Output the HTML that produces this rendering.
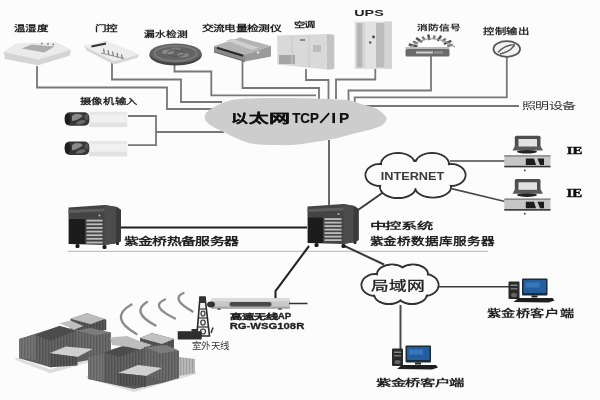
<!DOCTYPE html>
<html lang="zh-CN"><head><meta charset="utf-8"><title>network</title>
<style>html,body{margin:0;padding:0;background:#fcfcfc;}svg{display:block;filter:blur(0.55px)}</style></head>
<body><svg width="600" height="400" viewBox="0 0 600 400">
<rect width="600" height="400" fill="#fcfcfc"/>
<polyline points="37,66 37,87.5 167,87.5 167,109 216,109" fill="none" stroke="#777777" stroke-width="1.8" stroke-linejoin="miter"/>
<polyline points="112,63 112,79.5 181,79.5 181,102 222,102" fill="none" stroke="#777777" stroke-width="1.8" stroke-linejoin="miter"/>
<polyline points="174.5,64 174.5,71.5 211.3,71.5 211.3,95.3 316,95.3" fill="none" stroke="#777777" stroke-width="1.8" stroke-linejoin="miter"/>
<polyline points="242.5,61 242.5,88 319,88 319,99" fill="none" stroke="#777777" stroke-width="1.8" stroke-linejoin="miter"/>
<polyline points="306,69 306,80 328.5,80 328.5,99" fill="none" stroke="#777777" stroke-width="1.8" stroke-linejoin="miter"/>
<polyline points="375.3,68 375.3,79.5 336,79.5 336,99" fill="none" stroke="#777777" stroke-width="1.8" stroke-linejoin="miter"/>
<polyline points="431,56 431,90.5 348.5,90.5 348.5,101" fill="none" stroke="#777777" stroke-width="1.8" stroke-linejoin="miter"/>
<polyline points="506.8,57 506.8,97.3 354.7,97.3 354.7,102" fill="none" stroke="#777777" stroke-width="1.8" stroke-linejoin="miter"/>
<polyline points="519,106 365,106" fill="none" stroke="#777777" stroke-width="1.8" stroke-linejoin="miter"/>
<polyline points="128,116 156,116 156,145.2 128,145.2" fill="none" stroke="#777777" stroke-width="1.8" stroke-linejoin="miter"/>
<polyline points="156,132 224,132" fill="none" stroke="#777777" stroke-width="1.8" stroke-linejoin="miter"/>
<polyline points="329,140 329,205" fill="none" stroke="#5a5a5a" stroke-width="1.8" stroke-linejoin="miter"/>
<polyline points="121,227.5 307,227.5" fill="none" stroke="#1e1e1e" stroke-width="2" stroke-linejoin="miter"/>
<polyline points="68,251.3 488,251.3" fill="none" stroke="#b4b4b4" stroke-width="1" stroke-linejoin="miter"/>
<polyline points="358,210 383,192.5" fill="none" stroke="#3a3a3a" stroke-width="2" stroke-linejoin="miter"/>
<polyline points="450,161 505,161" fill="none" stroke="#4a4a4a" stroke-width="1.6" stroke-linejoin="miter"/>
<polyline points="451.5,188.6 505,201.5" fill="none" stroke="#4a4a4a" stroke-width="1.6" stroke-linejoin="miter"/>
<polyline points="342.5,245 384,264.5" fill="none" stroke="#3a3a3a" stroke-width="2" stroke-linejoin="miter"/>
<polyline points="438.5,286.8 509,286.8" fill="none" stroke="#3a3a3a" stroke-width="1.6" stroke-linejoin="miter"/>
<polyline points="400.5,305 400.5,349" fill="none" stroke="#4a4a4a" stroke-width="2" stroke-linejoin="miter"/>
<polyline points="309,246 275.5,291 275.5,299" fill="none" stroke="#252525" stroke-width="2.1" stroke-linejoin="miter"/>
<path d="M204.8,116.5 C204.9,114.9 205.5,113.5 207.0,112.0 C208.5,110.5 211.0,108.8 213.5,107.3 C216.0,105.8 219.1,104.2 222.0,103.0 C224.9,101.8 228.0,101.0 231.0,100.3 C234.0,99.6 236.0,99.3 240.0,99.0 C244.0,98.7 248.3,98.4 255.0,98.2 C261.7,98.0 271.7,98.0 280.0,98.0 C288.3,98.0 295.8,98.0 305.0,98.3 C314.2,98.5 327.5,99.1 335.0,99.5 C342.5,99.9 345.5,99.7 350.0,100.5 C354.5,101.3 358.2,103.2 362.0,104.3 C365.8,105.4 369.5,106.2 372.5,107.3 C375.5,108.4 377.7,109.2 380.0,111.0 C382.3,112.8 386.0,115.8 386.5,118.0 C387.0,120.2 385.1,122.8 383.0,124.5 C380.9,126.2 377.8,127.2 374.0,128.5 C370.2,129.8 365.0,130.8 360.5,132.0 C356.0,133.2 351.2,134.4 347.0,135.5 C342.8,136.6 340.2,137.4 335.0,138.5 C329.8,139.6 322.7,140.8 316.0,141.8 C309.3,142.9 301.8,144.3 295.0,144.8 C288.2,145.3 281.7,145.1 275.0,145.0 C268.3,144.9 260.1,144.6 255.0,144.0 C249.9,143.4 248.2,142.8 244.5,141.6 C240.8,140.3 236.2,138.2 232.5,136.5 C228.8,134.8 225.2,132.9 222.0,131.3 C218.8,129.7 215.6,128.4 213.0,126.8 C210.4,125.2 207.7,123.2 206.3,121.5 C204.9,119.8 204.6,118.1 204.8,116.5 Z" fill="#cdcdcd"/>
<g><polygon points="3.8,52 16.5,43.7 55.7,42.4 71,50 69.7,55.7 38,65.2 5,59" fill="#d4d4d4"/><polygon points="3.8,52 16.5,43.7 55.7,42.4 71,50 38,59.5" fill="#ebebeb"/><polygon points="21.5,48.5 31.7,44.6 54.5,46.4 44.3,52.4" fill="#adadad"/><circle cx="41.8" cy="43.4" r="1" fill="#8a8a8a"/><circle cx="48" cy="43.9" r="1" fill="#8a8a8a"/><circle cx="53.2" cy="44.4" r="1" fill="#8a8a8a"/></g>
<g><polygon points="84,46 106.5,41 139,54.5 138,57.5 114,64.5 86.5,50.5" fill="#d6d6d6"/><polygon points="84,46 106.5,41 139,54.5 114,61.5" fill="#ededed"/><line x1="91.5" y1="46.5" x2="106" y2="43.5" stroke="#333" stroke-width="2"/><g stroke="#7a7a7a" stroke-width="1.2"><line x1="103.5" y1="48.6" x2="104.3" y2="53.1"/><line x1="108" y1="50.1" x2="108.8" y2="54.6"/><line x1="112.5" y1="51.5" x2="113.3" y2="56.0"/><line x1="117" y1="52.9" x2="117.8" y2="57.4"/><line x1="121.5" y1="54.4" x2="122.3" y2="58.9"/><line x1="101" y1="53" x2="124" y2="58.5" stroke-width="0.8"/></g></g>
<g><ellipse cx="175.6" cy="55" rx="26.3" ry="10.5" fill="#444"/><ellipse cx="175.6" cy="53.3" rx="25.8" ry="9.8" fill="#636363"/><ellipse cx="175.6" cy="53.3" rx="21" ry="7.6" fill="none" stroke="#7c7c7c" stroke-width="1.6"/><ellipse cx="168" cy="52" rx="6" ry="2.5" fill="#8a8a8a"/><ellipse cx="183" cy="55" rx="6" ry="2.5" fill="#848484"/><ellipse cx="176" cy="49" rx="5" ry="1.8" fill="#7a7a7a"/><ellipse cx="175.6" cy="53.3" rx="9" ry="3" fill="none" stroke="#555" stroke-width="1"/></g>
<g><polygon points="214,46 240,37.5 271,46 245,54.5" fill="#b4b4b4"/><polygon points="214,46 245,54.5 245,61.5 214,52" fill="#8a8a8a"/><polygon points="245,54.5 271,46 271,56.5 245,61.5" fill="#9a9a9a"/><polygon points="226,40.5 232,38.8 259,47.5 252,50" fill="#cfcfcf"/><line x1="217" y1="47.8" x2="243" y2="55.8" stroke="#2a2a2a" stroke-width="2.2"/><line x1="214" y1="52" x2="245" y2="61.5" stroke="#666" stroke-width="1"/><circle cx="258" cy="52.5" r="1.3" fill="#e0e0e0"/></g>
<g><polygon points="277.3,35.5 327,34 334.2,35 334.2,69 327,69.5 277.3,64.4" fill="#d9d9d9"/><polygon points="327,34 334.2,35 334.2,69 327,69.5" fill="#c4c4c4"/><rect x="279" y="55" width="16" height="9" fill="#a6a6a6"/><rect x="313" y="45" width="8" height="7" fill="#bdbdbd"/><rect x="300" y="39" width="5" height="2" fill="#888"/><line x1="292" y1="36" x2="292" y2="65" stroke="#c8c8c8" stroke-width="1"/><line x1="309" y1="35" x2="309" y2="67" stroke="#c8c8c8" stroke-width="1"/></g>
<g><rect x="354.5" y="21.5" width="37.5" height="47.5" fill="#e2e2e2"/><rect x="356.5" y="23" width="6" height="44.5" fill="#b6b6b6"/><rect x="376" y="23" width="8.5" height="44.5" fill="#bcbcbc"/><rect x="385" y="21.5" width="7" height="47.5" fill="#d4d4d4"/><rect x="363.5" y="23" width="1.5" height="44.5" fill="#cfcfcf"/><circle cx="373.5" cy="37" r="1.4" fill="#444"/><circle cx="370.2" cy="42.5" r="1.2" fill="#555"/></g>
<g><line x1="417.4" y1="46.2" x2="408.7" y2="44.5" stroke="#505050" stroke-width="2.4"/><line x1="417.8" y1="43.4" x2="413.0" y2="41.5" stroke="#777" stroke-width="2.4"/><line x1="422.0" y1="42.1" x2="416.1" y2="37.9" stroke="#505050" stroke-width="2.4"/><line x1="424.8" y1="39.9" x2="422.4" y2="36.7" stroke="#777" stroke-width="2.4"/><line x1="429.4" y1="40.1" x2="428.2" y2="34.6" stroke="#505050" stroke-width="2.4"/><line x1="433.8" y1="39.1" x2="434.6" y2="35.6" stroke="#777" stroke-width="2.4"/><line x1="437.5" y1="40.8" x2="441.2" y2="35.8" stroke="#505050" stroke-width="2.4"/><line x1="442.1" y1="41.3" x2="445.8" y2="38.7" stroke="#777" stroke-width="2.4"/><line x1="443.8" y1="44.0" x2="451.3" y2="40.9" stroke="#505050" stroke-width="2.4"/><line x1="447.2" y1="45.9" x2="452.7" y2="44.8" stroke="#777" stroke-width="2.4"/><path d="M409,48 Q431,30 455,47" fill="none" stroke="#9a9a9a" stroke-width="1.2"/><rect x="405.5" y="47" width="44" height="2.5" fill="#bdbdbd"/><rect x="405.5" y="49" width="44" height="7.5" rx="1.5" fill="#6a6a6a"/><rect x="416" y="51.5" width="17" height="2" fill="#cfcfcf"/><rect x="434" y="51" width="9" height="3" fill="#8a8a8a"/></g>
<g><ellipse cx="506.75" cy="49" rx="13.3" ry="7.8" fill="#f2f2f2" stroke="#555" stroke-width="1.8"/><path d="M498,52.5 C502,48 508,44.5 515,45" fill="none" stroke="#555" stroke-width="1.3"/><path d="M500,54 C505,53 511,50 514.5,45.5" fill="none" stroke="#555" stroke-width="1.3"/></g>
<g transform="translate(0,0)"><rect x="88.5" y="111.5" width="39" height="15.8" rx="2" fill="#f0f0f0"/><rect x="89" y="112" width="38" height="2.5" fill="#e6e6e6"/><rect x="89" y="122.5" width="38" height="4.5" fill="#e2e2e2"/><rect x="64.8" y="112.2" width="24.5" height="13.6" rx="5" fill="#363636"/><ellipse cx="67.5" cy="119" rx="2.8" ry="5.5" fill="#1e1e1e"/><path d="M72,116 C75,113 80,113 83,116 C80,118 76,121 72,121 Z" fill="#8a8a8a"/><path d="M76,123 C79,120 83,119 86,121 C84,124 80,125 76,124 Z" fill="#6a6a6a"/><ellipse cx="86.5" cy="117" rx="2" ry="3" fill="#555"/></g>
<g transform="translate(0,29.2)"><rect x="88.5" y="111.5" width="39" height="15.8" rx="2" fill="#f0f0f0"/><rect x="89" y="112" width="38" height="2.5" fill="#e6e6e6"/><rect x="89" y="122.5" width="38" height="4.5" fill="#e2e2e2"/><rect x="64.8" y="112.2" width="24.5" height="13.6" rx="5" fill="#363636"/><ellipse cx="67.5" cy="119" rx="2.8" ry="5.5" fill="#1e1e1e"/><path d="M72,116 C75,113 80,113 83,116 C80,118 76,121 72,121 Z" fill="#8a8a8a"/><path d="M76,123 C79,120 83,119 86,121 C84,124 80,125 76,124 Z" fill="#6a6a6a"/><ellipse cx="86.5" cy="117" rx="2" ry="3" fill="#555"/></g>
<g><polygon points="68.5,207.5 104.5,205 117,207 121,210 121,241 118,243 104.5,245 68.5,244" fill="#444"/><polygon points="104.5,205 117,207 121,210 121,241 118,243 104.5,245" fill="#4c4c4c"/><polygon points="116,208 121,210 121,241 116,243" fill="#3a3a3a"/><polygon points="68.5,210 104.5,208.5 104.5,211.5 68.5,213" fill="#5e5e5e"/><rect x="69.0" y="219" width="16.0" height="25" fill="#1c1c1c"/><rect x="86.5" y="219.7" width="16.0" height="1.8" fill="#bdbdbd"/><rect x="86.5" y="223.4" width="16.0" height="1.8" fill="#bdbdbd"/><rect x="86.5" y="227.0" width="16.0" height="1.8" fill="#bdbdbd"/><rect x="86.5" y="230.7" width="16.0" height="1.8" fill="#bdbdbd"/><rect x="86.5" y="234.3" width="16.0" height="1.8" fill="#bdbdbd"/><rect x="86.5" y="237.9" width="16.0" height="1.8" fill="#bdbdbd"/><rect x="86.5" y="241.6" width="16.0" height="1.8" fill="#bdbdbd"/><circle cx="99.5" cy="215.5" r="1" fill="#bbb"/><rect x="75.5" y="244" width="4" height="4" rx="1.5" fill="#1a1a1a"/><rect x="102.5" y="245" width="4" height="4" rx="1.5" fill="#1a1a1a"/><rect x="116" y="242" width="3" height="3" rx="1" fill="#2a2a2a"/></g>
<g><polygon points="307.5,206.5 343.5,204 354.5,206 358.5,209 358.5,240 355.5,242 343.5,244 307.5,243" fill="#444"/><polygon points="343.5,204 354.5,206 358.5,209 358.5,240 355.5,242 343.5,244" fill="#4c4c4c"/><polygon points="353.5,207 358.5,209 358.5,240 353.5,242" fill="#3a3a3a"/><polygon points="307.5,209 343.5,207.5 343.5,210.5 307.5,212" fill="#5e5e5e"/><rect x="308.0" y="217.5" width="15.0" height="25.5" fill="#1c1c1c"/><rect x="324.5" y="218.2" width="17.0" height="1.8" fill="#bdbdbd"/><rect x="324.5" y="221.7" width="17.0" height="1.8" fill="#bdbdbd"/><rect x="324.5" y="225.2" width="17.0" height="1.8" fill="#bdbdbd"/><rect x="324.5" y="228.7" width="17.0" height="1.8" fill="#bdbdbd"/><rect x="324.5" y="232.2" width="17.0" height="1.8" fill="#bdbdbd"/><rect x="324.5" y="235.7" width="17.0" height="1.8" fill="#bdbdbd"/><rect x="324.5" y="239.2" width="17.0" height="1.8" fill="#bdbdbd"/><circle cx="338.5" cy="214.0" r="1" fill="#bbb"/><rect x="314.5" y="243" width="4" height="4" rx="1.5" fill="#1a1a1a"/><rect x="341.5" y="244" width="4" height="4" rx="1.5" fill="#1a1a1a"/><rect x="353.5" y="241" width="3" height="3" rx="1" fill="#2a2a2a"/></g>
<g transform="translate(0,0)"><rect x="514.8" y="135.8" width="25.7" height="13" rx="1.5" fill="#4e4e4e"/><polygon points="515,146 540.5,146 543,150.5 512.5,150.5" fill="#5a5a5a"/><rect x="518.5" y="139" width="18.5" height="7.5" fill="#e2e2e2"/><ellipse cx="527" cy="151.8" rx="10" ry="1.8" fill="#222"/><rect x="504.3" y="155.2" width="46.2" height="12.1" fill="#c6c6c6"/><rect x="504.3" y="155.2" width="46.2" height="1.5" fill="#888"/><rect x="504.3" y="165.8" width="46.2" height="1.5" fill="#333"/><polygon points="525.8,158.5 534,158.5 536,165 525.8,165" fill="#1c1c1c"/><polygon points="537.5,158.5 544,158.5 544,165 540,165" fill="#1c1c1c"/><circle cx="524.8" cy="170.4" r="0.9" fill="#333"/></g>
<g transform="translate(0,43.3)"><rect x="514.8" y="135.8" width="25.7" height="13" rx="1.5" fill="#4e4e4e"/><polygon points="515,146 540.5,146 543,150.5 512.5,150.5" fill="#5a5a5a"/><rect x="518.5" y="139" width="18.5" height="7.5" fill="#e2e2e2"/><ellipse cx="527" cy="151.8" rx="10" ry="1.8" fill="#222"/><rect x="504.3" y="155.2" width="46.2" height="12.1" fill="#c6c6c6"/><rect x="504.3" y="155.2" width="46.2" height="1.5" fill="#888"/><rect x="504.3" y="165.8" width="46.2" height="1.5" fill="#333"/><polygon points="525.8,158.5 534,158.5 536,165 525.8,165" fill="#1c1c1c"/><polygon points="537.5,158.5 544,158.5 544,165 540,165" fill="#1c1c1c"/><circle cx="524.8" cy="170.4" r="0.9" fill="#333"/></g>
<g transform="translate(508.5,281.5)"><rect x="0" y="0" width="11" height="17.5" rx="1" fill="#2a2a2a"/><rect x="2" y="3" width="7" height="1.5" fill="#888"/><rect x="2" y="6.5" width="7" height="1.5" fill="#777"/><ellipse cx="5.5" cy="13.5" rx="3" ry="2" fill="#666"/><rect x="13.5" y="-3" width="25.5" height="17" rx="1" fill="#1b2a3a"/><rect x="15" y="-1.5" width="22.5" height="13" fill="#235f9e"/><rect x="17" y="1" width="14" height="5" fill="#3b7cc0" opacity="0.8"/><rect x="23" y="14" width="6" height="2" fill="#222"/><polygon points="5,20.5 10,16.5 44,16.5 46,19 40,21" fill="#1e1e1e"/></g>
<g transform="translate(392,348.5)"><rect x="0" y="0" width="11" height="17.5" rx="1" fill="#2a2a2a"/><rect x="2" y="3" width="7" height="1.5" fill="#888"/><rect x="2" y="6.5" width="7" height="1.5" fill="#777"/><ellipse cx="5.5" cy="13.5" rx="3" ry="2" fill="#666"/><rect x="13.5" y="-3" width="25.5" height="17" rx="1" fill="#1b2a3a"/><rect x="15" y="-1.5" width="22.5" height="13" fill="#235f9e"/><rect x="17" y="1" width="14" height="5" fill="#3b7cc0" opacity="0.8"/><rect x="23" y="14" width="6" height="2" fill="#222"/><polygon points="5,20.5 10,16.5 44,16.5 46,19 40,21" fill="#1e1e1e"/></g>
<g><rect x="211" y="298.3" width="79" height="10.5" rx="3" fill="#c8c8c8"/><rect x="211" y="298.3" width="79" height="3" rx="1.5" fill="#dcdcdc"/><rect x="211" y="306.5" width="79" height="2.3" rx="1" fill="#aaa"/><rect x="229.5" y="302" width="42" height="4.6" rx="2" fill="#4a4a4a"/><ellipse cx="219" cy="309" rx="2" ry="1" fill="#666"/><ellipse cx="280" cy="309" rx="2" ry="1" fill="#666"/><line x1="289" y1="303.5" x2="307.5" y2="303.5" stroke="#333" stroke-width="1.5"/><ellipse cx="211" cy="304.5" rx="4" ry="3" fill="#333"/></g>
<g><path d="M200,297 L205,297 L209.5,336 L196.8,336 Z" fill="#f0f0f0" stroke="#2a2a2a" stroke-width="1.6"/><rect x="199" y="297" width="7" height="6" fill="#333"/><g stroke="#333" stroke-width="1.2" fill="none"><line x1="199" y1="309" x2="207" y2="309"/><line x1="198.5" y1="318" x2="208" y2="318"/><line x1="198" y1="327" x2="209" y2="327"/><ellipse cx="203" cy="313.5" rx="2" ry="2.5"/><ellipse cx="203" cy="322.5" rx="2.2" ry="2.5"/><ellipse cx="203" cy="331.5" rx="2.5" ry="2.5"/></g><rect x="177.7" y="331.2" width="24" height="8.3" fill="#2e2e2e"/><rect x="191.5" y="329" width="6" height="3" fill="#333"/><path d="M211,333 L213,327.5" stroke="#333" stroke-width="1.5"/></g>
<path d="M131.5,304.5 Q108.0,317.8 136.5,334" fill="none" stroke="#8c8c8c" stroke-width="2.4" stroke-linecap="round"/>
<path d="M147,302 Q130.4,312.2 155.5,325.5" fill="none" stroke="#8c8c8c" stroke-width="2.4" stroke-linecap="round"/>
<path d="M165,299.5 Q149.0,306.0 175,318.5" fill="none" stroke="#8c8c8c" stroke-width="2.4" stroke-linecap="round"/>
<path d="M183.5,293 Q170.0,298.8 192.5,311.5" fill="none" stroke="#8c8c8c" stroke-width="2.4" stroke-linecap="round"/>
<defs><pattern id="vs" width="3" height="4" patternUnits="userSpaceOnUse"><rect width="1" height="4" fill="#000" opacity="0.13"/><rect x="2" width="0.6" height="4" fill="#fff" opacity="0.07"/></pattern></defs>
<g><polygon points="15.5,357.3 50.3,369.2 90.7,358.2 90.7,361.8 50.3,373.2 15.5,360.0" fill="#dedede"/><polygon points="70.5,318.8 87.0,313.3 106.3,319.7 106.3,329.8 90.7,334.3 70.5,328.8" fill="#525252"/><polygon points="70.5,318.8 87.0,313.3 106.3,319.7 106.3,329.8 90.7,334.3 70.5,328.8" fill="url(#vs)"/><polygon points="70.5,318.8 87.0,313.3 105.3,318.8 90.7,324.3" fill="#bcbcbc"/><polygon points="19.2,338.9 59.5,326.1 77.8,330.7 110.8,332.5 110.8,352.7 88.8,360.0 50.3,367.3 19.2,358.2" fill="#5f5f5f"/><polygon points="35.7,335.3 76.0,330.7 76.0,352.7 50.3,367.3 35.7,360.0" fill="#5f5f5f"/><polygon points="35.7,335.3 76.0,330.7 76.0,352.7 50.3,367.3 35.7,360.0" fill="url(#vs)"/><polygon points="19.2,338.9 35.7,334.3 35.7,360.0 19.2,358.2" fill="#707070"/><polygon points="19.2,338.9 35.7,334.3 35.7,360.0 19.2,358.2" fill="url(#vs)"/><polygon points="35.7,335.3 59.5,326.1 76.0,330.7 50.3,340.8" fill="#4c4c4c"/><polygon points="59.5,323.3 70.5,320.6 83.3,326.1 74.2,329.8" fill="#bfbfbf"/><polygon points="76.0,330.7 87.0,327.9 110.8,332.5 110.8,352.7 94.3,356.3 76.0,350.8" fill="#666666"/><polygon points="76.0,330.7 87.0,327.9 110.8,332.5 110.8,352.7 94.3,356.3 76.0,350.8" fill="url(#vs)"/><polygon points="76.9,330.7 90.7,327.9 110.8,332.5 96.2,335.3" fill="#7c7c7c"/><polygon points="49.4,353.2 65.9,346.4 92.5,349.0 77.5,357.1" fill="#cfcfcf"/><polygon points="49.4,353.2 77.5,357.1 77.5,365.5 50.3,367.3" fill="#505050"/><polygon points="49.4,353.2 77.5,357.1 77.5,365.5 50.3,367.3" fill="url(#vs)"/><polygon points="86.0,376.0 134.0,389.0 196.0,371.0 196.0,374.0 134.0,392.0 86.0,378.0" fill="#dcdcdc"/><polygon points="179.0,357.0 195.0,359.0 195.0,373.0 179.0,376.0" fill="#b5b5b5"/><polygon points="179.0,357.0 195.0,359.0 195.0,373.0 179.0,376.0" fill="url(#vs)"/><polygon points="140.0,338.0 152.0,333.0 174.0,339.0 174.0,349.0 162.0,351.0 140.0,347.0" fill="#525252"/><polygon points="140.0,338.0 152.0,333.0 174.0,339.0 174.0,349.0 162.0,351.0 140.0,347.0" fill="url(#vs)"/><polygon points="140.0,338.0 152.0,333.0 174.0,339.0 162.0,344.0" fill="#c2c2c2"/><polygon points="88.0,357.0 126.0,345.0 146.0,347.0 179.0,351.0 179.0,378.0 162.0,383.0 134.0,389.0 88.0,379.0" fill="#5d5d5d"/><polygon points="104.0,353.0 144.0,347.0 144.0,375.0 118.0,385.0 104.0,381.0" fill="#5d5d5d"/><polygon points="104.0,353.0 144.0,347.0 144.0,375.0 118.0,385.0 104.0,381.0" fill="url(#vs)"/><polygon points="88.0,357.0 104.0,353.0 104.0,381.0 88.0,379.0" fill="#707070"/><polygon points="88.0,357.0 104.0,353.0 104.0,381.0 88.0,379.0" fill="url(#vs)"/><polygon points="104.0,353.0 126.0,345.0 144.0,347.0 120.0,357.0" fill="#4c4c4c"/><polygon points="110.0,337.4 127.0,336.0 138.0,340.6 152.0,345.0 140.0,349.4 128.0,347.0 112.0,345.0" fill="#bdbdbd"/><polygon points="144.0,347.0 160.0,345.0 179.0,351.0 179.0,378.0 162.0,381.0 144.0,375.0" fill="#666666"/><polygon points="144.0,347.0 160.0,345.0 179.0,351.0 179.0,378.0 162.0,381.0 144.0,375.0" fill="url(#vs)"/><polygon points="146.0,347.4 166.0,345.0 179.0,350.6 161.0,353.4" fill="#7c7c7c"/><polygon points="118.0,373.0 138.0,365.0 162.0,368.0 146.0,376.0" fill="#d0d0d0"/><polygon points="118.0,373.0 146.0,376.0 146.0,387.0 118.0,385.0" fill="#505050"/><polygon points="118.0,373.0 146.0,376.0 146.0,387.0 118.0,385.0" fill="url(#vs)"/></g>
<g><ellipse cx="380" cy="175" rx="14.5" ry="11" fill="none" stroke="#333" stroke-width="2"/><ellipse cx="398" cy="164.5" rx="17" ry="11.5" fill="none" stroke="#333" stroke-width="2"/><ellipse cx="432" cy="164.5" rx="17" ry="11.5" fill="none" stroke="#333" stroke-width="2"/><ellipse cx="451" cy="175" rx="14.5" ry="11" fill="none" stroke="#333" stroke-width="2"/><ellipse cx="398" cy="187" rx="18" ry="11" fill="none" stroke="#333" stroke-width="2"/><ellipse cx="433" cy="187" rx="18" ry="10.5" fill="none" stroke="#333" stroke-width="2"/><ellipse cx="415" cy="175" rx="30" ry="14" fill="none" stroke="#333" stroke-width="2"/><ellipse cx="380" cy="175" rx="13.5" ry="10.0" fill="#fbfbfb"/><ellipse cx="398" cy="164.5" rx="16.0" ry="10.5" fill="#fbfbfb"/><ellipse cx="432" cy="164.5" rx="16.0" ry="10.5" fill="#fbfbfb"/><ellipse cx="451" cy="175" rx="13.5" ry="10.0" fill="#fbfbfb"/><ellipse cx="398" cy="187" rx="17.0" ry="10.0" fill="#fbfbfb"/><ellipse cx="433" cy="187" rx="17.0" ry="9.5" fill="#fbfbfb"/><ellipse cx="415" cy="175" rx="29.0" ry="13.0" fill="#fbfbfb"/></g>
<g><ellipse cx="375.5" cy="285" rx="14" ry="11" fill="none" stroke="#333" stroke-width="2"/><ellipse cx="392" cy="274.5" rx="15" ry="10" fill="none" stroke="#333" stroke-width="2"/><ellipse cx="413" cy="274.5" rx="15" ry="10" fill="none" stroke="#333" stroke-width="2"/><ellipse cx="424.5" cy="285" rx="14" ry="11" fill="none" stroke="#333" stroke-width="2"/><ellipse cx="389" cy="294" rx="15" ry="10" fill="none" stroke="#333" stroke-width="2"/><ellipse cx="412" cy="294" rx="15" ry="10" fill="none" stroke="#333" stroke-width="2"/><ellipse cx="400" cy="285" rx="25" ry="12" fill="none" stroke="#333" stroke-width="2"/><ellipse cx="375.5" cy="285" rx="13.0" ry="10.0" fill="#fbfbfb"/><ellipse cx="392" cy="274.5" rx="14.0" ry="9.0" fill="#fbfbfb"/><ellipse cx="413" cy="274.5" rx="14.0" ry="9.0" fill="#fbfbfb"/><ellipse cx="424.5" cy="285" rx="13.0" ry="10.0" fill="#fbfbfb"/><ellipse cx="389" cy="294" rx="14.0" ry="9.0" fill="#fbfbfb"/><ellipse cx="412" cy="294" rx="14.0" ry="9.0" fill="#fbfbfb"/><ellipse cx="400" cy="285" rx="24.0" ry="11.0" fill="#fbfbfb"/></g>
<text x="13.8" y="30.8" font-family='"Liberation Sans", sans-serif' font-size="8.02" font-weight="bold" fill="#222" textLength="34.3" lengthAdjust="spacingAndGlyphs" >温湿度</text>
<text x="94.8" y="30.6" font-family='"Liberation Sans", sans-serif' font-size="8.13" font-weight="bold" fill="#222" textLength="22.8" lengthAdjust="spacingAndGlyphs" >门控</text>
<text x="143.8" y="37.3" font-family='"Liberation Sans", sans-serif' font-size="7.81" font-weight="bold" fill="#222" textLength="43.8" lengthAdjust="spacingAndGlyphs" >漏水检测</text>
<text x="201.8" y="31.2" font-family='"Liberation Sans", sans-serif' font-size="8.33" font-weight="bold" fill="#222" textLength="79.3" lengthAdjust="spacingAndGlyphs" >交流电量检测仪</text>
<text x="293.5" y="27.3" font-family='"Liberation Sans", sans-serif' font-size="7.29" font-weight="bold" fill="#222" textLength="21.7" lengthAdjust="spacingAndGlyphs" >空调</text>
<text x="354.2" y="16.2" font-family='"Liberation Sans", sans-serif' font-size="9.43" font-weight="bold" fill="#222" textLength="29.6" lengthAdjust="spacingAndGlyphs" >UPS</text>
<text x="416.9" y="29.9" font-family='"Liberation Sans", sans-serif' font-size="6.77" font-weight="bold" fill="#222" textLength="44.3" lengthAdjust="spacingAndGlyphs" >消防信号</text>
<text x="482.8" y="34.3" font-family='"Liberation Sans", sans-serif' font-size="7.71" font-weight="bold" fill="#2a2a2a" textLength="47.3" lengthAdjust="spacingAndGlyphs" >控制输出</text>
<text x="521.8" y="109.2" font-family='"Liberation Sans", sans-serif' font-size="9.38" font-weight="normal" fill="#333" textLength="54.0" lengthAdjust="spacingAndGlyphs" >照明设备</text>
<text x="79.8" y="103.8" font-family='"Liberation Sans", sans-serif' font-size="7.81" font-weight="bold" fill="#222" textLength="58.3" lengthAdjust="spacingAndGlyphs" >摄像机输入</text>
<text x="231.1" y="122.9" font-family='"Liberation Sans", sans-serif' font-size="12.29" font-weight="bold" fill="#111" textLength="16.4" lengthAdjust="spacingAndGlyphs" stroke="#111" stroke-width="0.25">以</text>
<text x="249.0" y="122.9" font-family='"Liberation Sans", sans-serif' font-size="12.29" font-weight="bold" fill="#111" textLength="19.1" lengthAdjust="spacingAndGlyphs" stroke="#111" stroke-width="0.25">太</text>
<text x="269.0" y="122.9" font-family='"Liberation Sans", sans-serif' font-size="12.29" font-weight="bold" fill="#111" textLength="20.5" lengthAdjust="spacingAndGlyphs" stroke="#111" stroke-width="0.25">网</text>
<text x="292.2" y="123.1" font-family='"Liberation Sans", sans-serif' font-size="14.57" font-weight="bold" fill="#111" textLength="26.8" lengthAdjust="spacingAndGlyphs" stroke="#111" stroke-width="0.2">TCP</text>
<line x1="320.3" y1="122.9" x2="329.2" y2="113.1" stroke="#111" stroke-width="1.9"/>
<rect x="332.4" y="112.9" width="2.6" height="10.2" fill="#111"/>
<text x="338.9" y="123.1" font-family='"Liberation Sans", sans-serif' font-size="14.57" font-weight="bold" fill="#111" textLength="10.2" lengthAdjust="spacingAndGlyphs" stroke="#111" stroke-width="0.2">P</text>
<text x="380.7" y="180.0" font-family='"Liberation Sans", sans-serif' font-size="10.71" font-weight="bold" fill="#3a3a3a" textLength="63.6" lengthAdjust="spacingAndGlyphs" >INTERNET</text>
<text x="566.7" y="153.5" font-family='"Liberation Serif", serif' font-size="11.36" font-weight="bold" fill="#111" textLength="15.7" lengthAdjust="spacingAndGlyphs" stroke="#111" stroke-width="0.5">IE</text>
<text x="566.6" y="196.6" font-family='"Liberation Serif", serif' font-size="12.12" font-weight="bold" fill="#111" textLength="15.7" lengthAdjust="spacingAndGlyphs" stroke="#111" stroke-width="0.5">IE</text>
<text x="123.8" y="245.1" font-family='"Liberation Sans", sans-serif' font-size="10.42" font-weight="bold" fill="#222" textLength="114.4" lengthAdjust="spacingAndGlyphs" >紫金桥热备服务器</text>
<text x="369.5" y="229.2" font-family='"Liberation Sans", sans-serif' font-size="9.38" font-weight="bold" fill="#222" textLength="62.7" lengthAdjust="spacingAndGlyphs" >中控系统</text>
<text x="369.5" y="245.0" font-family='"Liberation Sans", sans-serif' font-size="10.73" font-weight="bold" fill="#222" textLength="125.7" lengthAdjust="spacingAndGlyphs" >紫金桥数据库服务器</text>
<text x="370.5" y="290.4" font-family='"Liberation Serif", serif' font-size="12.75" font-weight="normal" fill="#222" textLength="54.2" lengthAdjust="spacingAndGlyphs" stroke="#222" stroke-width="0.3">局域网</text>
<text x="486.6" y="317.4" font-family='"Liberation Sans", sans-serif' font-size="9.69" font-weight="bold" fill="#222" textLength="87.6" lengthAdjust="spacingAndGlyphs" >紫金桥客户端</text>
<text x="375.8" y="386.2" font-family='"Liberation Sans", sans-serif' font-size="9.38" font-weight="bold" fill="#222" textLength="88.4" lengthAdjust="spacingAndGlyphs" >紫金桥客户端</text>
<text x="229.9" y="318.7" font-family='"Liberation Sans", sans-serif' font-size="7.08" font-weight="bold" fill="#222" textLength="48.3" lengthAdjust="spacingAndGlyphs" stroke="#222" stroke-width="0.25">高速无线</text>
<text x="277.7" y="319.3" font-family='"Liberation Sans", sans-serif' font-size="9.71" font-weight="bold" fill="#222" textLength="13.6" lengthAdjust="spacingAndGlyphs" stroke="#222" stroke-width="0.3">AP</text>
<text x="229.7" y="329.3" font-family='"Liberation Sans", sans-serif' font-size="9.71" font-weight="bold" fill="#222" textLength="74.6" lengthAdjust="spacingAndGlyphs" stroke="#222" stroke-width="0.3">RG-WSG108R</text>
<text x="191.8" y="349.4" font-family='"Liberation Serif", serif' font-size="9.01" font-weight="normal" fill="#333" textLength="37.9" lengthAdjust="spacingAndGlyphs" >室外天线</text>
</svg></body></html>
